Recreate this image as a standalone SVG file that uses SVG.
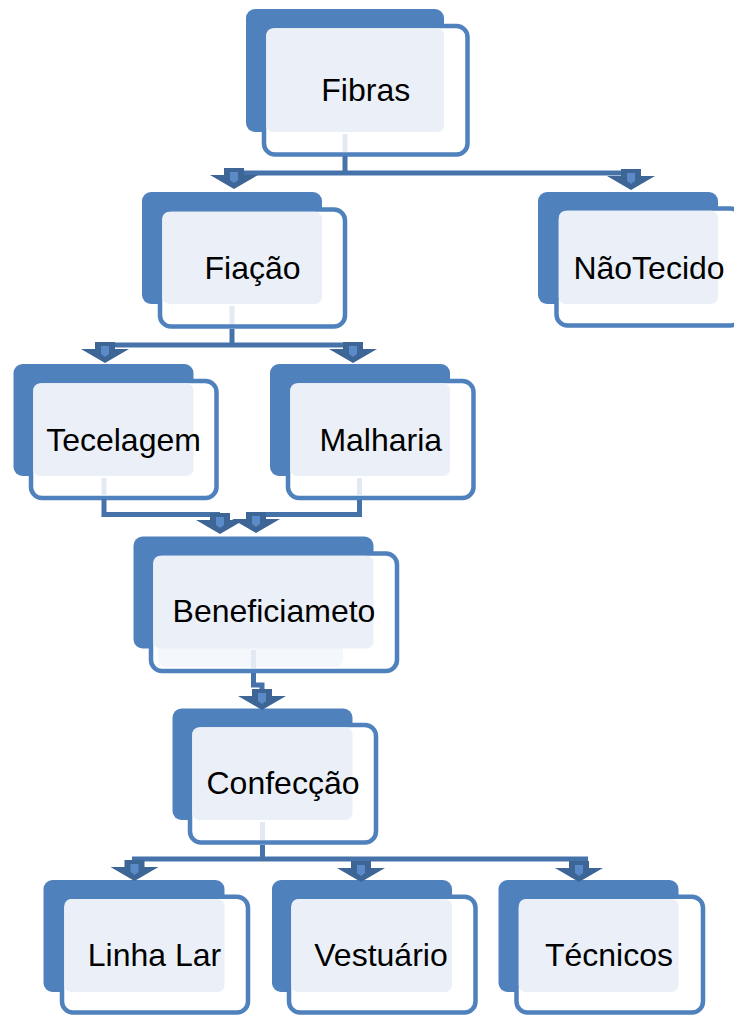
<svg xmlns="http://www.w3.org/2000/svg" width="734" height="1015" viewBox="0 0 734 1015">
<style>
.back{fill:#4F81BD}
.front{fill:#FFFFFF;stroke:#4F81BD;stroke-width:4.5}
.light{fill:#EBF0F8}
.label{font-family:"Liberation Sans",Arial,sans-serif;font-size:32px;fill:#000000;text-anchor:middle}
.conn{fill:none;stroke:#4672AA;stroke-width:5}
.stub{fill:none;stroke:#E3E9F3;stroke-width:5}
</style>
<defs>
<g id="arrow">
<path d="M-10,0 H10 V7 H24 L0,21 L-24,7 H-10 Z" fill="#3D6596"/>
<path d="M-4,4 H4 V12 L0,15 L-4,12 Z" fill="#5A8AC8"/>
</g>
</defs>
<rect width="734" height="1015" fill="#FFFFFF"/>
<g id="node-fibras">
<rect class="back" x="246" y="9" width="198" height="123" rx="9"/>
<rect class="front" x="264" y="26" width="203.5" height="128.5" rx="11"/>
<rect class="light" x="266.25" y="28.25" width="177.75" height="103.75" rx="7"/>
<text class="label" x="365.75" y="101">Fibras</text>
</g>
<g id="node-fiacao">
<rect class="back" x="142" y="192" width="180" height="112" rx="9"/>
<rect class="front" x="160" y="209.5" width="185" height="117" rx="11"/>
<rect class="light" x="162.25" y="211.75" width="159.75" height="92.25" rx="7"/>
<text class="label" x="252.5" y="279">Fiação</text>
</g>
<g id="node-naotecido">
<rect class="back" x="538" y="192" width="180" height="112" rx="9"/>
<rect class="front" x="556.5" y="208.5" width="185" height="117" rx="11"/>
<rect class="light" x="558.75" y="210.75" width="159.25" height="93.25" rx="7"/>
<text class="label" x="649" y="279">NãoTecido</text>
</g>
<g id="node-tecelagem">
<rect class="back" x="13.5" y="364" width="180" height="112" rx="9"/>
<rect class="front" x="31" y="381" width="185.5" height="117" rx="11"/>
<rect class="light" x="33.25" y="383.25" width="160.25" height="92.75" rx="7"/>
<text class="label" x="123.5" y="450.5">Tecelagem</text>
</g>
<g id="node-malharia">
<rect class="back" x="270" y="364" width="180" height="112" rx="9"/>
<rect class="front" x="288" y="381" width="185.5" height="117" rx="11"/>
<rect class="light" x="290.25" y="383.25" width="159.75" height="92.75" rx="7"/>
<text class="label" x="380.75" y="450.5">Malharia</text>
</g>
<g id="node-beneficiameto">
<rect class="back" x="133.5" y="536.5" width="240" height="112" rx="9"/>
<rect class="front" x="151" y="553.5" width="246" height="117.5" rx="11"/>
<rect x="158" y="630" width="185" height="37" rx="8" fill="#F4F7FB"/>
<rect class="light" x="153.25" y="555.75" width="220.25" height="92.75" rx="7"/>
<text class="label" x="274" y="622">Beneficiameto</text>
</g>
<g id="node-confeccao">
<rect class="back" x="172.5" y="708.5" width="180" height="111.5" rx="9"/>
<rect class="front" x="190" y="725" width="186" height="117.5" rx="11"/>
<rect class="light" x="192.25" y="727.25" width="160.25" height="92.75" rx="7"/>
<text class="label" x="283" y="793.5">Confecção</text>
</g>
<g id="node-linhalar">
<rect class="back" x="43.5" y="880" width="181" height="112" rx="9"/>
<rect class="front" x="62" y="896.8" width="186" height="115.7" rx="11"/>
<rect class="light" x="64.25" y="899" width="160.25" height="93" rx="7"/>
<text class="label" x="154.5" y="965.5">Linha Lar</text>
</g>
<g id="node-vestuario">
<rect class="back" x="272" y="880" width="180" height="112" rx="9"/>
<rect class="front" x="289" y="896.8" width="186.5" height="115.7" rx="11"/>
<rect class="light" x="291.25" y="899" width="160.75" height="93" rx="7"/>
<text class="label" x="381" y="965.5">Vestuário</text>
</g>
<g id="node-tecnicos">
<rect class="back" x="498.5" y="880" width="180" height="112" rx="9"/>
<rect class="front" x="516.5" y="896.8" width="186.5" height="115.7" rx="11"/>
<rect class="light" x="518.75" y="899" width="159.75" height="93" rx="7"/>
<text class="label" x="609" y="965.5">Técnicos</text>
</g>
<g id="connectors">
<path class="stub" d="M345,134 V152 M232,306 V324 M104,478 V495 M359.5,478 V495 M253.5,650 V668 M262.5,822 V840"/>
<path class="conn" d="M345,156 V173 M234,173 H631"/>
<path class="conn" d="M232,329 V345 M105,345 H353"/>
<path class="conn" d="M104,499 V514.5 H220"/>
<path class="conn" d="M359.5,500 V514.5 H256"/>
<path class="conn" d="M253.5,673 V685 H262 V690"/>
<path class="conn" d="M262.5,845 V859 M132,859 H588"/>
<use href="#arrow" x="234" y="168"/>
<use href="#arrow" x="631" y="169"/>
<use href="#arrow" x="105" y="342"/>
<use href="#arrow" x="353" y="342"/>
<use href="#arrow" x="220" y="513"/>
<use href="#arrow" x="256" y="512"/>
<use href="#arrow" x="262" y="689"/>
<use href="#arrow" x="134.5" y="860"/>
<use href="#arrow" x="361" y="861"/>
<use href="#arrow" x="579" y="861"/>
</g>
</svg>
